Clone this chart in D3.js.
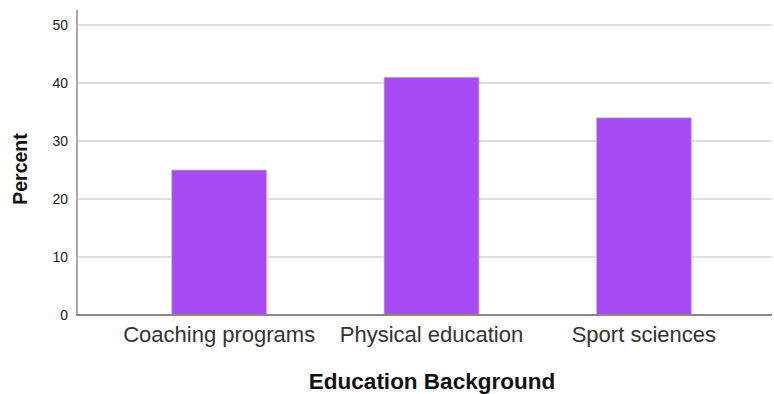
<!DOCTYPE html>
<html>
<head>
<meta charset="utf-8">
<script src="https://cdn.jsdelivr.net/npm/d3@7"></script>
<style>
  body { margin: 0; background: #fff; }
  text { font-family: Arial, "Liberation Sans", sans-serif; }
</style>
</head>
<body>
<div id="chart"></div>
<script>
// education background distribution
const categories = ["Coaching programs", "Physical education", "Sport sciences"];
const percents = [25, 41, 34];
const yTicks = [0, 10, 20, 30, 40, 50];

const width = 774, height = 394;

const svg = d3.select("#chart").append("svg")
    .attr("width", width)
    .attr("height", height);

// scales
const x = d3.scaleBand()
    .domain(categories)
    .range([113, 750])
    .paddingInner(0.553)
    .paddingOuter(0.2765);

const y = d3.scaleLinear()
    .domain([0, 50])
    .range([315, 25]);

// gridlines
svg.append("g")
    .selectAll("line")
    .data(yTicks.filter(d => d > 0))
    .join("line")
    .attr("x1", 78).attr("x2", 772)
    .attr("y1", d => y(d)).attr("y2", d => y(d))
    .attr("stroke", "#d4d4d4")
    .attr("stroke-width", 1.5);

// bars
svg.append("g")
    .selectAll("rect")
    .data(percents)
    .join("rect")
    .attr("x", (d, i) => x(categories[i]))
    .attr("y", d => y(d))
    .attr("width", x.bandwidth())
    .attr("height", d => y(0) - y(d))
    .attr("fill", "#a64af3")
    .attr("stroke", "#d9b0f8")
    .attr("stroke-width", 0.8);

// y axis
const yAxis = svg.append("g")
    .attr("transform", "translate(77,0)")
    .call(d3.axisLeft(y).tickValues(yTicks).tickSize(0).tickPadding(9));
yAxis.select(".domain").remove();
yAxis.selectAll("text")
    .attr("font-size", 14)
    .attr("fill", "#222");
svg.append("line")
    .attr("x1", 77).attr("x2", 77)
    .attr("y1", 10).attr("y2", 316)
    .attr("stroke", "#aaa").attr("stroke-width", 2);

// x axis
const xAxis = svg.append("g")
    .attr("transform", "translate(0,315)")
    .call(d3.axisBottom(x).tickSize(0).tickPadding(11));
xAxis.select(".domain").remove();
xAxis.selectAll("text")
    .attr("font-size", 22)
    .attr("fill", "#333");
svg.append("line")
    .attr("x1", 76).attr("x2", 772)
    .attr("y1", 315).attr("y2", 315)
    .attr("stroke", "#888").attr("stroke-width", 2);

// axis titles
svg.append("text")
    .attr("transform", "translate(27,169) rotate(-90)")
    .attr("text-anchor", "middle")
    .attr("font-size", 19.5)
    .attr("font-weight", "bold")
    .attr("fill", "#111")
    .text("Percent");

svg.append("text")
    .attr("x", 432).attr("y", 389)
    .attr("text-anchor", "middle")
    .attr("font-size", 22.5)
    .attr("font-weight", "bold")
    .attr("fill", "#111")
    .text("Education Background");
</script>
</body>
</html>
